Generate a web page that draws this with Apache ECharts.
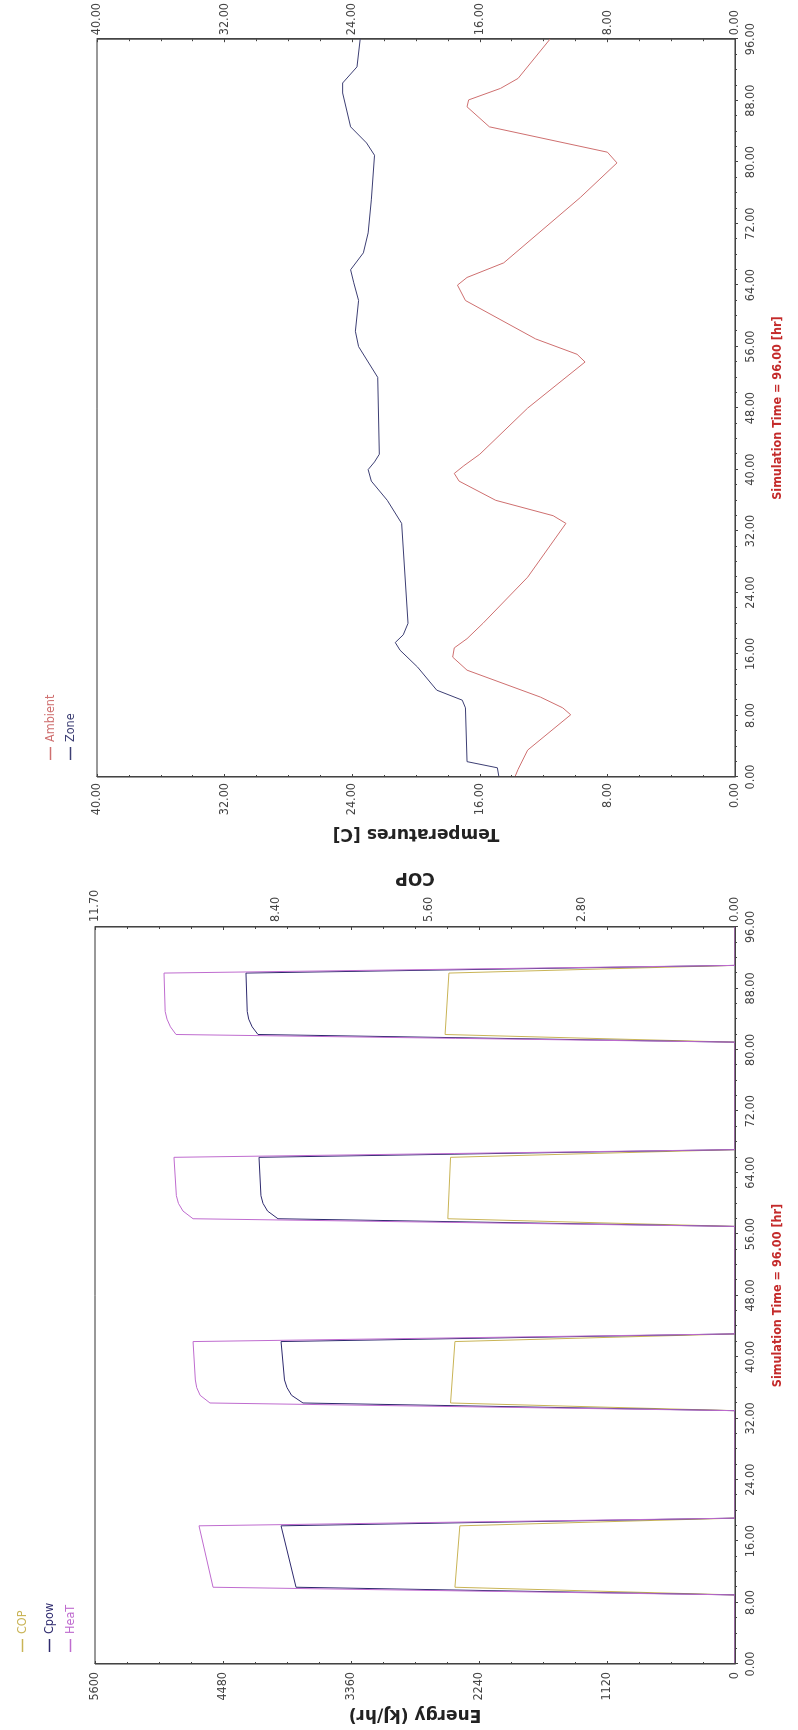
<!DOCTYPE html>
<html>
<head>
<meta charset="utf-8">
<script src="https://cdn.jsdelivr.net/npm/echarts@6/dist/echarts.min.js"></script>
<style>
  html, body { margin: 0; padding: 0; background: #fff; width: 798px; height: 1730px; overflow: hidden; }
  /* the plotter output is laid out landscape and turned a quarter turn */
  #chart { position: absolute; left: 0; top: 0; width: 1730px; height: 798px;
           transform-origin: 0 0; transform: translate(0, 1730px) rotate(-90deg); }
</style>
</head>
<body>
<div id="chart"></div>
<script>
// ---- axis ticks ----
const timeTicks   = { min: 0, max: 96, step: 8 };
const energyTicks = [0, 1120, 2240, 3360, 4480, 5600];
const copTicks    = [0, 2.8, 5.6, 8.4, 11.7];
const tempTicks   = [0, 8, 16, 24, 32, 40];

// ---- heat pump output [hour, value] ----
const heatPoints = [
  [0, 0], [9, 0], [10, 4567], [18, 4690], [19, 0],
  [33, 0], [34, 4594], [35, 4680], [36, 4710], [37, 4722], [42, 4742], [43, 0],
  [57, 0], [58, 4742], [59, 4830], [60, 4870], [61, 4888], [66, 4909], [67, 0],
  [81, 0], [82, 4891], [83, 4940], [84, 4970], [85, 4986], [90, 4996], [91, 0], [96, 0]
];
const cpowPoints = [
  [0, 0], [9, 0], [10, 3841], [18, 3972], [19, 0],
  [33, 0], [34, 3780], [35, 3880], [36, 3920], [37, 3942], [42, 3972], [43, 0],
  [57, 0], [58, 3999], [59, 4090], [60, 4130], [61, 4148], [66, 4165], [67, 0],
  [81, 0], [82, 4174], [83, 4225], [84, 4255], [85, 4268], [90, 4279], [91, 0], [96, 0]
];
const copPoints = [
  [0, 0], [9, 0], [10, 5.12], [18, 5.03], [19, 0],
  [33, 0], [34, 5.20], [42, 5.12], [43, 0],
  [57, 0], [58, 5.25], [66, 5.20], [67, 0],
  [81, 0], [82, 5.30], [90, 5.23], [91, 0], [96, 0]
];

// ---- temperatures [hour, deg C] ----
const ambientPoints = [
  [0, 13.8], [1, 13.6], [3.5, 13.0], [8.1, 10.3], [9, 10.8], [10.4, 12.2], [13.9, 16.8],
  [15.6, 17.7], [16.8, 17.6], [18, 16.8], [20, 15.8], [26, 13.0], [33, 10.6], [34, 11.4],
  [36, 15.0], [38.5, 17.3], [39.5, 17.6], [40.5, 17.0], [42, 16.0], [48, 13.0], [54, 9.4],
  [55, 9.9], [57, 12.5], [62, 16.9], [64, 17.4], [65, 16.8], [66.9, 14.5], [75.4, 9.7],
  [79.9, 7.4], [81.3, 8.0], [84.6, 15.4], [87.2, 16.8], [88.1, 16.7], [89.6, 14.7],
  [90.9, 13.6], [96, 11.6]
];
const zonePoints = [
  [0, 14.8], [1.2, 14.9], [2, 16.8], [9, 16.9], [10, 17.1], [11.3, 18.7], [14.3, 19.9],
  [16.5, 21.0], [17.5, 21.3], [18.5, 20.8], [20, 20.5], [33, 20.9], [36, 21.8], [38.5, 22.8],
  [40, 23.0], [41, 22.6], [42, 22.3], [52, 22.4], [54, 23.0], [56, 23.6], [58, 23.8],
  [62, 23.6], [64.3, 23.9], [66, 24.1], [68.2, 23.3], [70.8, 23.0], [75.1, 22.8],
  [80.9, 22.6], [82.5, 23.1], [84.6, 24.1], [89, 24.6], [90.3, 24.6], [92.4, 23.7], [96, 23.5]
];

// ---- colours ----
const colors = {
  heat: '#bf6ccf', cpow: '#2e2a6e', cop: '#c9b456',
  ambient: '#cf7070', zone: '#3d3f74', axis: '#444', title: '#c42a2a'
};

const narrow = "'Liberation Sans Narrow','Arial Narrow','DejaVu Sans Condensed',sans-serif";
const wide = "'DejaVu Sans',Verdana,sans-serif";

const fmt2 = v => Number(v).toFixed(2);

function timeAxis(gridIndex) {
  return {
    type: 'value', gridIndex, position: 'bottom', z: 4,
    min: timeTicks.min, max: timeTicks.max, interval: timeTicks.step,
    axisLine: { show: true, onZero: false, lineStyle: { color: colors.axis } },
    axisTick: { show: true, inside: false, length: 3, lineStyle: { color: colors.axis } },
    minorTick: { show: true, splitNumber: 4, length: 2, lineStyle: { color: colors.axis } },
    splitLine: { show: false },
    axisLabel: { formatter: fmt2, margin: 9, color: colors.axis, fontFamily: narrow, fontSize: 12.5 },
    name: 'Simulation Time = 96.00 [hr]', nameLocation: 'middle', nameGap: 36,
    nameTextStyle: { color: colors.title, fontWeight: 'bold', fontFamily: narrow, fontSize: 12.5 }
  };
}

function valueAxis(gridIndex, position, min, max, interval, extra) {
  return Object.assign({
    type: 'value', gridIndex, position, min, max, interval, z: 4,
    axisLine: { show: true, onZero: false, lineStyle: { color: colors.axis } },
    axisTick: { show: true, inside: true, length: 3, lineStyle: { color: colors.axis } },
    minorTick: { show: true, splitNumber: 4, length: 2, lineStyle: { color: colors.axis } },
    splitLine: { show: false },
    nameLocation: 'middle', nameRotate: 90,
    nameTextStyle: { color: '#222', fontWeight: 'bold', fontFamily: wide, fontSize: 17 }
  }, extra);
}

const labelStyle = (margin, formatter) =>
  ({ margin, formatter, color: colors.axis, fontFamily: narrow, fontSize: 12.5 });

const legendText = c => ({ color: c, fontFamily: narrow, fontSize: 12.5 });

const option = {
  animation: false,
  backgroundColor: '#fff',
  grid: [
    { left: 66, right: 927, top: 95, bottom: 63, show: true, borderColor: '#333', borderWidth: 1 },
    { left: 953, right: 39, top: 97, bottom: 63, show: true, borderColor: '#333', borderWidth: 1 }
  ],
  legend: [
    { orient: 'vertical', left: 73, top: 11, icon: 'rect', itemWidth: 13, itemHeight: 1.5, itemGap: 9,
      data: [{ name: 'COP', textStyle: legendText(colors.cop) }] },
    { orient: 'vertical', left: 73, top: 38, icon: 'rect', itemWidth: 13, itemHeight: 1.5, itemGap: 8,
      data: [{ name: 'Cpow', textStyle: legendText(colors.cpow) },
             { name: 'HeaT', textStyle: legendText(colors.heat) }] },
    { orient: 'vertical', left: 965, top: 39, icon: 'rect', itemWidth: 13, itemHeight: 1.5, itemGap: 7,
      data: [{ name: 'Ambient', textStyle: legendText(colors.ambient) },
             { name: 'Zone', textStyle: legendText(colors.zone) }] }
  ],
  xAxis: [timeAxis(0), timeAxis(1)],
  yAxis: [
    valueAxis(0, 'left', energyTicks[0], energyTicks[energyTicks.length - 1], energyTicks[1] - energyTicks[0], {
      name: 'Energy (kJ/hr)', nameGap: 42,
      axisLabel: labelStyle(8, v => String(Math.round(v)))
    }),
    valueAxis(0, 'right', copTicks[0], copTicks[copTicks.length - 1], (copTicks[copTicks.length - 1] - copTicks[0]) / 5, {
      name: 'COP', nameGap: 38,
      axisLabel: Object.assign(labelStyle(5, fmt2), { customValues: copTicks })
    }),
    valueAxis(1, 'left', tempTicks[0], tempTicks[tempTicks.length - 1], tempTicks[1] - tempTicks[0], {
      name: 'Temperatures [C]', nameGap: 48,
      axisLabel: labelStyle(6, fmt2)
    }),
    valueAxis(1, 'right', tempTicks[0], tempTicks[tempTicks.length - 1], tempTicks[1] - tempTicks[0], {
      axisLabel: labelStyle(4, fmt2)
    })
  ],
  series: [
    { name: 'COP', type: 'line', xAxisIndex: 0, yAxisIndex: 1, data: copPoints, showSymbol: false, z: 2,
      lineStyle: { color: colors.cop, width: 1 }, itemStyle: { color: colors.cop } },
    { name: 'Cpow', type: 'line', xAxisIndex: 0, yAxisIndex: 0, data: cpowPoints, showSymbol: false, z: 2,
      lineStyle: { color: colors.cpow, width: 1 }, itemStyle: { color: colors.cpow } },
    { name: 'HeaT', type: 'line', xAxisIndex: 0, yAxisIndex: 0, data: heatPoints, showSymbol: false, z: 2,
      lineStyle: { color: colors.heat, width: 1 }, itemStyle: { color: colors.heat } },
    { name: 'Ambient', type: 'line', xAxisIndex: 1, yAxisIndex: 2, data: ambientPoints, showSymbol: false, z: 2,
      lineStyle: { color: colors.ambient, width: 1 }, itemStyle: { color: colors.ambient } },
    { name: 'Zone', type: 'line', xAxisIndex: 1, yAxisIndex: 2, data: zonePoints, showSymbol: false, z: 2,
      lineStyle: { color: colors.zone, width: 1 }, itemStyle: { color: colors.zone } }
  ]
};

const chart = echarts.init(document.getElementById('chart'), null, { renderer: 'canvas', width: 1730, height: 798 });
chart.setOption(option);
</script>
</body>
</html>
